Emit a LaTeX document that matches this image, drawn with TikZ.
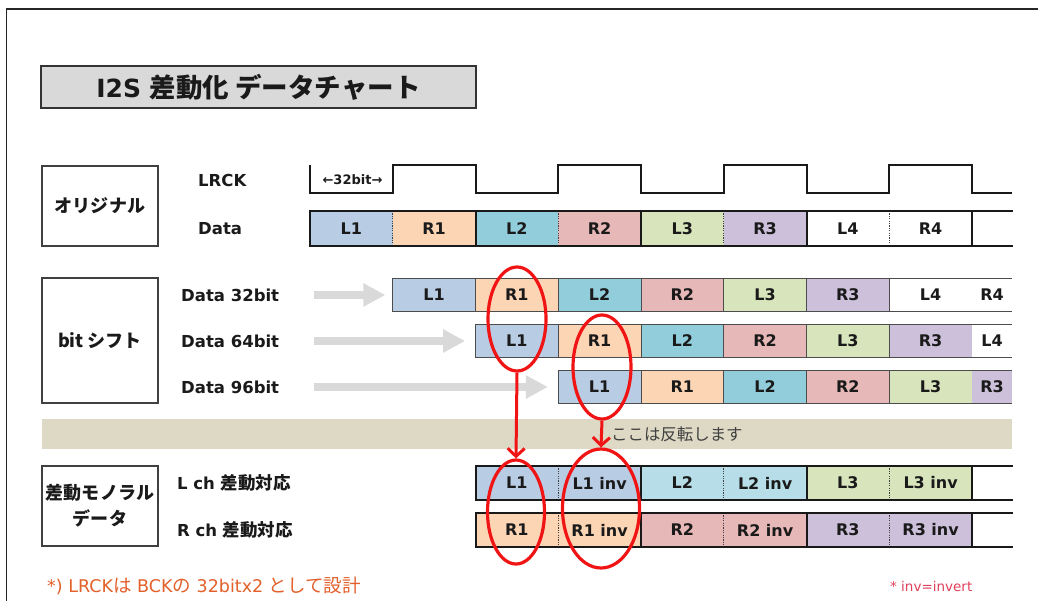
\documentclass[tikz,border=0pt]{standalone}
\usepackage{fontspec}
\setmainfont{DejaVu Sans}
\newfontfamily\jp{Noto Sans CJK JP}[Scale=1.06]
\usetikzlibrary{arrows.meta,shapes.geometric}
\definecolor{cLa}{HTML}{B8CCE4}
\definecolor{cRa}{HTML}{FCD5B4}
\definecolor{cLb}{HTML}{92CDDC}
\definecolor{cLbb}{HTML}{B7DEE8}
\definecolor{cRb}{HTML}{E6B8B7}
\definecolor{cLc}{HTML}{D8E4BC}
\definecolor{cRc}{HTML}{CCC0DA}
\definecolor{bandc}{HTML}{DDD9C4}
\definecolor{titlegray}{HTML}{D9D9D9}
\definecolor{arrowgray}{HTML}{D9D9D9}
\definecolor{ink}{HTML}{1A1A1A}
\definecolor{noteorange}{HTML}{E2602A}
\definecolor{notered}{HTML}{E0405A}
\definecolor{redmark}{HTML}{F01414}
\newcommand\JP[1]{{\jp #1}}
\begin{document}
\begin{tikzpicture}[x=1pt,y=-1pt,
  every node/.style={text=ink},
  lab/.style={font=\bfseries\fontsize{16.5}{20}\selectfont, anchor=west, inner sep=0pt},
  cell/.style={font=\bfseries\fontsize{16}{19}\selectfont, minimum width=82.75pt, inner sep=0pt},
  ocell/.style={cell, minimum height=35pt},
  scell/.style={cell, minimum height=33.5pt, draw=black!70, line width=0.8pt},
  dcell/.style={cell, minimum height=34pt},
  pcell/.style={cell, minimum width=40pt, minimum height=33.5pt},
  heavy/.style={line width=2pt, black!90, line cap=rect},
  thinb/.style={line width=0.8pt, black!70},
  dotsep/.style={line width=0.9pt, black!75, dash pattern=on 1.2pt off 1.2pt},
  lbox/.style={draw=black!75, line width=1.2pt, minimum width=116pt, inner sep=0pt, align=center, font=\jp\bfseries\fontsize{17}{26}\selectfont},
  garrow/.style={line width=8pt, arrowgray, -{Triangle[length=22pt,width=22pt]}},
  redring/.style={ellipse, draw=redmark, line width=3.2pt, inner sep=0pt},
  redarrow/.style={line width=3pt, redmark, -{Straight Barb[length=8pt,width=17pt]}},
]
\useasboundingbox (0,0) rectangle (1038,600);
% outer frame
\draw[line width=1.8pt, black!85] (6.5,602) -- (6.5,9) -- (1040,9);
% title
\node[draw=black!80, line width=2pt, fill=titlegray, minimum width=435pt, minimum height=42pt, inner sep=0pt, font=\bfseries\fontsize{25}{30}\selectfont] (title) at (258.5,87) {I2S \JP{差動化 データチャート}};
% left boxes
\node[lbox, minimum height=80pt] (bOrig) at (100,206) {オリジナル};
\node[lbox, minimum height=125pt] (bShift) at (100,340.5) {bit シフト};
\node[lbox, minimum height=80pt] (bDiff) at (100,506) {差動モノラル\\データ};
% row labels
\node[lab] (lLRCK) at (198,180) {LRCK};
\node[lab] (lData) at (198,228.5) {Data};
\node[lab] (l32) at (181,295) {Data 32bit};
\node[lab] (l64) at (181,341) {Data 64bit};
\node[lab] (l96) at (181,387) {Data 96bit};
\node[lab] (lLch) at (177,483) {L ch \JP{差動対応}};
\node[lab] (lRch) at (177,530) {R ch \JP{差動対応}};
% LRCK waveform
\draw[line width=2pt, black!90] (310,165) -- (310,193) -- (392.75,193) -- (392.75,165) -- (475.5,165) -- (475.5,193)
  -- (558.25,193) -- (558.25,165) -- (641,165) -- (641,193) -- (723.75,193) -- (723.75,165) -- (806.5,165) -- (806.5,193)
  -- (889.25,193) -- (889.25,165) -- (972,165) -- (972,193) -- (1012,193);
\node[font=\bfseries\fontsize{13}{15}\selectfont, inner sep=0pt] (bits) at (352.5,179.5) {←32bit→};
% original data row
\foreach \k/\t/\c in {0/L1/cLa,1/R1/cRa,2/L2/cLb,3/R2/cRb,4/L3/cLc,5/R3/cRc,6/L4/white,7/R4/white}
  \node[ocell, fill=\c] (o\k) at ({351.375+82.75*\k},228.5) {\t};
\foreach \x in {392.75,558.25,723.75,889.25} \draw[dotsep] (\x,211) -- (\x,246);
\draw[heavy] (1012,211) -- (310,211) -- (310,246) -- (1012,246);
\foreach \x in {475.5,641,806.5,972} \draw[heavy] (\x,211) -- (\x,246);
% shifted rows
\foreach \k/\t/\c in {1/L1/cLa,2/R1/cRa,3/L2/cLb,4/R2/cRb,5/L3/cLc,6/R3/cRc,7/L4/white}
  \node[scell, fill=\c] (a\k) at ({351.375+82.75*\k},295) {\t};
\node[pcell, fill=white] (a8) at (992,295) {R4};
\draw[thinb] (972,278.25) -- (1012,278.25) (972,311.75) -- (1012,311.75);
\foreach \k/\t/\c in {2/L1/cLa,3/R1/cRa,4/L2/cLb,5/R2/cRb,6/L3/cLc,7/R3/cRc}
  \node[scell, fill=\c] (b\k) at ({351.375+82.75*\k},341) {\t};
\node[pcell, fill=white] (b8) at (992,341) {L4};
\draw[thinb] (972,324.25) -- (1012,324.25) (972,357.75) -- (1012,357.75);
\foreach \k/\t/\c in {3/L1/cLa,4/R1/cRa,5/L2/cLb,6/R2/cRb,7/L3/cLc}
  \node[scell, fill=\c] (c\k) at ({351.375+82.75*\k},387) {\t};
\node[pcell, fill=cRc] (c8) at (992,387) {R3};
\draw[thinb] (972,370.25) -- (1012,370.25) (972,403.75) -- (1012,403.75);
% gray arrows
\coordinate (g1) at (314,295);
\coordinate (g2) at (314,341);
\coordinate (g3) at (314,387);
\draw[garrow] (g1) -- ([xshift=-7pt]a1.west);
\draw[garrow] (g2) -- ([xshift=-10pt]b2.west);
\draw[garrow] (g3) -- ([xshift=-10pt]c3.west);
% band
\fill[bandc] (42,419) rectangle (1012,449);
\node[font=\jp\fontsize{15.5}{19}\selectfont, text=black!75, anchor=west, inner sep=0pt] (invnote) at (611,434) {ここは反転します};
% differential rows
\foreach \k/\t/\c in {2/L1/cLa,3/L1 inv/cLa,4/L2/cLbb,5/L2 inv/cLbb,6/L3/cLc,7/L3 inv/cLc}
  \node[dcell, fill=\c] (dl\k) at ({351.375+82.75*\k},483) {\t};
\foreach \k/\t/\c in {2/R1/cRa,3/R1 inv/cRa,4/R2/cRb,5/R2 inv/cRb,6/R3/cRc,7/R3 inv/cRc}
  \node[dcell, fill=\c] (dr\k) at ({351.375+82.75*\k},530) {\t};
\foreach \ya/\yb in {466/500,513/547}{
  \foreach \x in {558.25,723.75,889.25} \draw[dotsep] (\x,\ya) -- (\x,\yb);
  \draw[heavy] (1012,\ya) -- (475.5,\ya) -- (475.5,\yb) -- (1012,\yb);
  \foreach \x in {641,806.5,972} \draw[heavy] (\x,\ya) -- (\x,\yb);
}
% red marks
\node[redring, minimum width=58pt, minimum height=104pt] (e1) at (517,319) {};
\node[redring, minimum width=58pt, minimum height=104pt] (e2) at (602,367) {};
\node[redring, minimum width=57pt, minimum height=104pt] (e3) at (516,512) {};
\node[redring, minimum width=77pt, minimum height=119pt] (e4) at (601,508.5) {};
\draw[redarrow] (e1.south) -- (e3.north);
\draw[redarrow] (e2.south) -- (e4.north);
% notes
\node[anchor=west, inner sep=0pt, text=noteorange, font=\fontsize{17.5}{21}\selectfont] (note1) at (47,586) {*) LRCK\JP{は} BCK\JP{の} 32bitx2 \JP{として設計}};
\node[anchor=west, inner sep=0pt, text=notered, font=\fontsize{13.5}{16}\selectfont] (note2) at (890,586) {* inv=invert};
\end{tikzpicture}
\end{document}
